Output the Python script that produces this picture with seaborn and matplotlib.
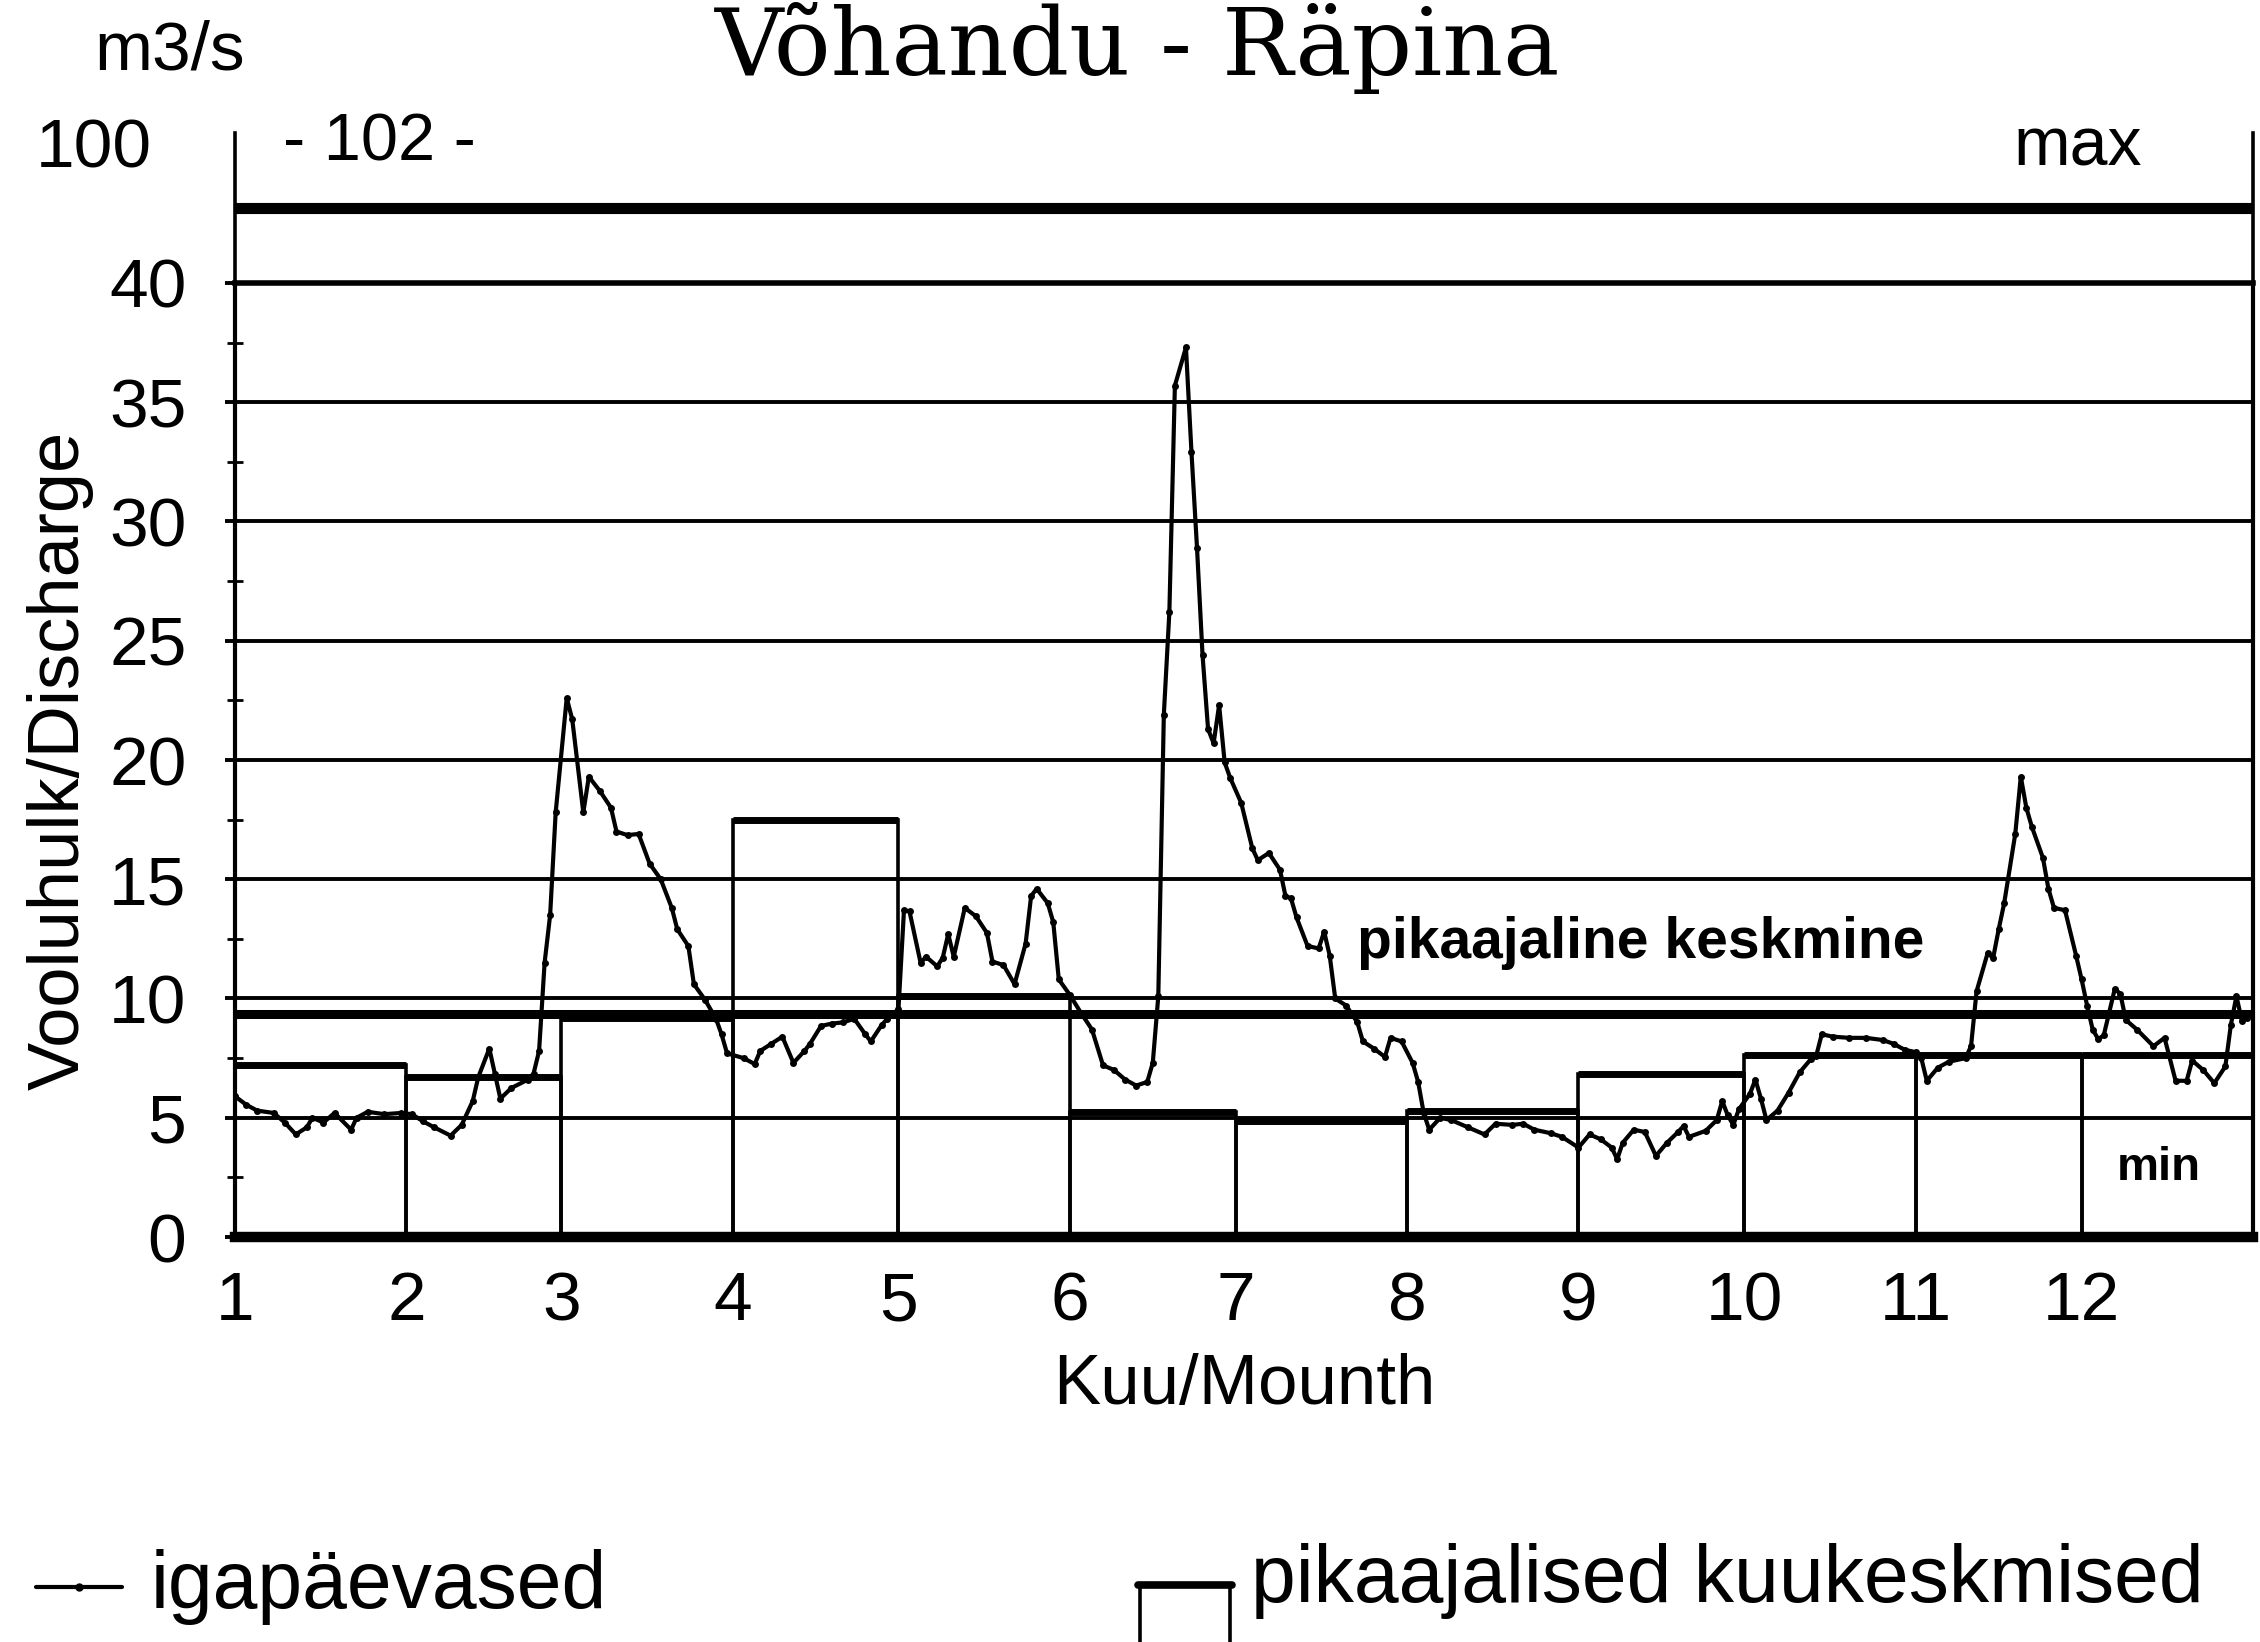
import matplotlib
matplotlib.use("Agg")
import matplotlib.pyplot as plt
from matplotlib.lines import Line2D
import numpy as np
import seaborn as sns

# --- data (discharge, m3/s) ---
MONTH_LABELS = ["1", "2", "3", "4", "5", "6", "7", "8", "9", "10", "11", "12"]
MONTH_DAYS = [31, 28, 31, 30, 31, 30, 31, 31, 30, 31, 30, 31]
MONTH_MEAN = [7.2, 6.7, 9.2, 17.5, 10.1, 5.25, 4.85, 5.3, 6.85, 7.65, 7.65, 7.65]
LONG_TERM_MEAN = 9.35
MAX_Q = 102

DAY = [0, 2, 4, 7, 9, 11, 13, 14, 16, 18, 21, 22, 24, 27, 30, 32, 34, 36, 39, 41,
       43, 44, 46, 47, 48, 50, 53, 54, 55, 56, 57, 58, 60, 61, 63, 64, 66, 68, 69, 71,
       73, 75, 77, 79, 80, 82, 83, 85, 87, 88, 89, 92, 94, 95, 97, 99, 101, 103, 104, 106,
       108, 110, 112, 114, 115, 117, 118, 120, 121, 122, 124, 125, 127, 128, 129, 130, 132, 134, 136, 137,
       139, 141, 143, 144, 145, 147, 148, 149, 151, 153, 155, 157, 159, 161, 163, 165, 166, 167, 168, 169,
       170, 172, 173, 174, 175, 176, 177, 178, 179, 180, 182, 184, 185, 187, 189, 190, 191, 192, 194, 196,
       197, 198, 199, 201, 203, 204, 206, 208, 209, 211, 213, 214, 215, 216, 218, 220, 223, 226, 228, 231,
       233, 235, 238, 240, 243, 245, 247, 249, 250, 251, 253, 255, 257, 259, 261, 262, 263, 266, 268, 269,
       270, 271, 272, 274, 275, 276, 277, 279, 281, 283, 285, 286, 287, 289, 292, 295, 298, 300, 302, 304,
       305, 306, 308, 310, 313, 314, 315, 317, 318, 319, 320, 322, 323, 324, 325, 327, 328, 329, 331, 333,
       334, 335, 336, 337, 338, 340, 341, 342, 344, 347, 349, 351, 353, 354, 356, 358, 360, 361, 362, 363,
       364]
Q_DAILY = [5.9, 5.55, 5.3, 5.2, 4.8, 4.3, 4.6, 5.0, 4.8, 5.2, 4.5, 5.0, 5.25, 5.15, 5.2, 5.15, 4.85, 4.6, 4.25, 4.7,
           5.7, 6.7, 7.9, 6.85, 5.8, 6.25, 6.6, 6.85, 7.8, 11.5, 13.5, 17.8, 22.6, 21.7, 17.8, 19.3, 18.7, 18.0, 17.0, 16.85,
           16.9, 15.65, 15.0, 13.8, 12.9, 12.2, 10.6, 9.95, 9.15, 8.5, 7.7, 7.5, 7.25, 7.8, 8.1, 8.4, 7.3, 7.8, 8.1, 8.85,
           8.95, 9.0, 9.15, 8.5, 8.2, 8.9, 9.15, 9.55, 13.7, 13.65, 11.5, 11.75, 11.35, 11.7, 12.7, 11.75, 13.8, 13.45, 12.75, 11.55,
           11.4, 10.6, 12.3, 14.3, 14.6, 14.0, 13.2, 10.8, 10.15, 9.4, 8.7, 7.2, 7.0, 6.6, 6.35, 6.5, 7.3, 10.1, 21.9, 26.2,
           35.7, 37.3, 32.9, 28.9, 24.4, 21.3, 20.7, 22.3, 19.9, 19.25, 18.2, 16.3, 15.8, 16.1, 15.4, 14.3, 14.2, 13.4, 12.2, 12.1,
           12.8, 11.8, 10.0, 9.7, 9.0, 8.2, 7.9, 7.55, 8.35, 8.2, 7.3, 6.5, 5.2, 4.5, 5.0, 4.9, 4.6, 4.3, 4.75, 4.7,
           4.75, 4.5, 4.35, 4.2, 3.75, 4.3, 4.1, 3.75, 3.26, 3.95, 4.5, 4.4, 3.4, 3.95, 4.4, 4.65, 4.2, 4.45, 4.9, 5.7,
           5.1, 4.7, 5.35, 6.0, 6.6, 5.8, 4.9, 5.3, 6.05, 6.9, 7.45, 7.6, 8.5, 8.4, 8.35, 8.35, 8.26, 8.1, 7.85, 7.75,
           7.5, 6.55, 7.1, 7.35, 7.5, 8.0, 10.3, 11.9, 11.7, 12.9, 14.0, 16.9, 19.3, 18.0, 17.2, 15.9, 14.6, 13.8, 13.7, 11.8,
           10.8, 9.7, 8.7, 8.3, 8.45, 10.4, 10.2, 9.1, 8.7, 8.0, 8.35, 6.55, 6.55, 7.4, 7.0, 6.45, 7.15, 8.9, 10.1, 9.05,
           9.2]

month_start = np.concatenate([[0], np.cumsum(MONTH_DAYS)[:-1]])
year_len = sum(MONTH_DAYS)

sns.set_style("ticks")
plt.rcParams['font.family'] = ['Liberation Sans', 'DejaVu Sans']
plt.rcParams['axes.linewidth'] = 2.8
for key in ['text.color', 'axes.labelcolor', 'xtick.color', 'ytick.color', 'axes.edgecolor']:
    plt.rcParams[key] = 'black'

W, H = 2260, 1642
fig = plt.figure(figsize=(W / 100, H / 100), dpi=100)
fig.patch.set_facecolor('white')

# main (0-40) panel and the squeezed upper panel holding the maximum
ax = fig.add_axes([235 / W, (H - 1237) / H, 2018 / W, 954 / H])
ax_top = fig.add_axes([235 / W, (H - 283) / H, 2018 / W, 150 / H])

# long-term monthly means as open bars
ax.bar(month_start, MONTH_MEAN, width=MONTH_DAYS, align='edge', fill=False,
       edgecolor='black', linewidth=2.6, zorder=3)
ax.hlines(MONTH_MEAN, month_start, month_start + np.array(MONTH_DAYS),
          color='black', linewidth=5.0, zorder=3)

# long-term mean
ax.axhline(LONG_TERM_MEAN, color='black', linewidth=6.5, zorder=3)

# daily discharge
sns.lineplot(x=DAY, y=Q_DAILY, ax=ax, color='black', linewidth=3.0,
             marker='o', markersize=5, markeredgewidth=0, zorder=4)

ax.set_xlim(0, year_len)
ax.set_ylim(0, 40)
ax.set_yticks(range(0, 45, 5))
ax.set_yticks(np.arange(2.5, 40, 5), minor=True)
ax.yaxis.grid(True, color='black', linewidth=2.8)
ax.set_axisbelow(False)
ax.set_xticks(month_start)
ax.set_xticklabels(MONTH_LABELS)
ax.tick_params(axis='y', which='major', direction='out', length=7, width=2.8,
               labelsize=50, pad=28, colors='black')
ax.tick_params(axis='y', which='minor', direction='inout', length=12, width=2.0)
ax.tick_params(axis='x', length=0, labelsize=50, pad=24, colors='black')
for side in ['left', 'right']:
    ax.spines[side].set_linewidth(3.0)
ax.spines['bottom'].set_linewidth(7.5)
ax.spines['top'].set_linewidth(4.0)

ax.set_xlabel('Kuu/Mounth', fontsize=51)
ax.xaxis.set_label_coords(0.5, -0.122)
ax.set_ylabel('Vooluhulk/Discharge', fontsize=52)
ax.yaxis.set_label_coords(-0.07, 0.5)

ax.text(203, 11.7, 'pikaajaline keskmine', fontsize=41, fontweight='bold',
        ha='left', va='baseline')
ax.text(348, 2.4, 'min', fontsize=34, fontweight='bold', ha='center', va='baseline')

# upper panel: maximum discharge
ax_top.set_xlim(0, year_len)
ax_top.set_ylim(98, 106)
ax_top.axhline(MAX_Q, color='black', linewidth=8)
ax_top.set_xticks([])
ax_top.set_yticks([])
ax_top.spines['top'].set_visible(False)
ax_top.spines['bottom'].set_visible(False)
ax_top.spines['left'].set_linewidth(2.6)
ax_top.spines['right'].set_linewidth(2.6)
ax_top.patch.set_alpha(0)
ax_top.text(-0.041, 0.89, '100', transform=ax_top.transAxes, fontsize=50,
            ha='right', va='center')
ax_top.text(0.024, 0.93, f'- {MAX_Q} -', transform=ax_top.transAxes, fontsize=48,
            ha='left', va='center')
ax_top.text(0.913, 0.78, 'max', transform=ax_top.transAxes, fontsize=49,
            ha='center', va='baseline')

# title and unit
fig.text(0.5035, (H - 75) / H, 'Võhandu - Räpina', fontsize=68, family='DejaVu Serif',
         ha='center', va='baseline')
fig.text(94 / W, (H - 70) / H, 'm3/s', fontsize=50, ha='left', va='baseline')

# legend drawn at the bottom of the page
fig.add_artist(Line2D([36 / W, 122 / W], [(H - 1587) / H] * 2, color='black', linewidth=3.0,
                      transform=fig.transFigure))
fig.add_artist(Line2D([79 / W], [(H - 1587) / H], color='black', marker='o', markersize=5,
                      transform=fig.transFigure))
fig.text(151 / W, (H - 1608) / H, 'igapäevased', fontsize=58, ha='left', va='baseline')
fig.add_artist(Line2D([1138 / W, 1232 / W], [(H - 1585) / H] * 2, color='black',
                      linewidth=5.5, transform=fig.transFigure))
for xp in (1140, 1230):
    fig.add_artist(Line2D([xp / W, xp / W], [(H - 1585) / H, 0], color='black',
                          linewidth=2.6, transform=fig.transFigure))
fig.text(1251 / W, (H - 1602) / H, 'pikaajalised kuukeskmised', fontsize=58,
         ha='left', va='baseline')

fig.savefig('out.png', dpi=100, facecolor='white')
